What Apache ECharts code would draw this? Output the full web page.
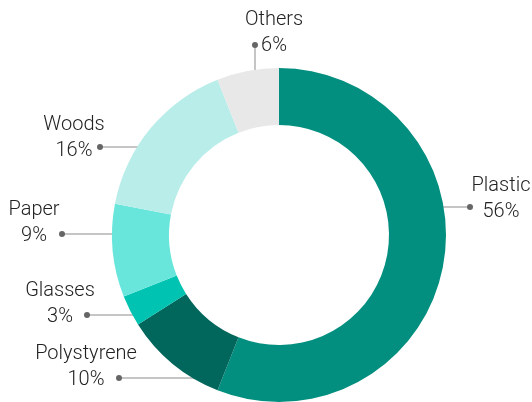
<!DOCTYPE html>
<html>
<head>
<meta charset="utf-8">
<script src="https://cdn.jsdelivr.net/npm/echarts@6/dist/echarts.min.js"></script>
<style>
  html, body { margin: 0; padding: 0; background: #fff; }
  #chart { width: 532px; height: 402px; }
</style>
</head>
<body>
<div id="chart"></div>
<script>
// Waste composition by material (percent)
const categories = ['Plastic', 'Polystyrene', 'Glasses', 'Paper', 'Woods', 'Others'];
const shares = [56, 10, 3, 9, 16, 6];
const colors = ['#038f7f', '#01665b', '#00c4b1', '#69e6dc', '#b8ede9', '#e8e8e8'];

// Label placement: text centre, leader line (from ring to dot)
const labelSpots = [
  { tx: 501, ty: 198.5, line: [[435, 207], [452, 207], [470, 207]] },
  { tx: 86,  ty: 366.5, line: [[207, 378], [160, 378], [119, 378]] },
  { tx: 60,  ty: 304,   line: [[153, 315], [120, 315], [87, 315]] },
  { tx: 34,  ty: 223,   line: [[129, 234], [95, 234], [62, 234]] },
  { tx: 74,  ty: 137.5, line: [[167, 147], [130, 147], [100, 147]] },
  { tx: 274, ty: 32.5,  line: [[255, 82], [255, 60], [255, 45]] }
];

const chart = echarts.init(document.getElementById('chart'), null, { renderer: 'canvas' });

const textFont = 'Roboto, "Noto Sans", sans-serif';

chart.setOption({
  animation: false,
  backgroundColor: '#ffffff',
  series: [{
    type: 'pie',
    center: [279, 235],
    radius: [110, 167],
    startAngle: 90,
    clockwise: true,
    avoidLabelOverlap: false,
    silent: true,
    data: categories.map((name, i) => ({
      name: name,
      value: shares[i],
      itemStyle: { color: colors[i] }
    })),
    label: {
      show: true,
      position: 'outside',
      formatter: '{n|{b}}\n{v|{c}%}',
      rich: {
        n: { fontFamily: textFont, fontWeight: 300, fontSize: 20, lineHeight: 26, color: '#222222', align: 'center' },
        v: { fontFamily: textFont, fontWeight: 300, fontSize: 20, lineHeight: 26, color: '#222222', align: 'center' }
      }
    },
    labelLine: {
      show: true,
      lineStyle: { color: '#8c8c8c', width: 1 }
    },
    labelLayout: function (params) {
      const s = labelSpots[params.dataIndex];
      return {
        x: s.tx,
        y: s.ty,
        align: 'center',
        verticalAlign: 'middle',
        labelLinePoints: s.line
      };
    }
  }],
  graphic: labelSpots.map(s => ({
    type: 'circle',
    shape: { cx: s.line[2][0], cy: s.line[2][1], r: 3 },
    style: { fill: '#666666' },
    z: 100
  }))
});
</script>
</body>
</html>
